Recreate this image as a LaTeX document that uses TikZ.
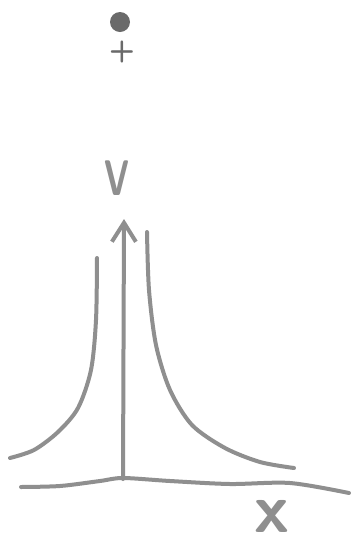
\documentclass[tikz,border=0pt]{standalone}
\usepackage{tikz}
\usetikzlibrary{arrows.meta}
\definecolor{SketchPencil}{HTML}{8F8F8F}
\definecolor{SketchDark}{HTML}{6A6A6A}
\definecolor{SketchPaper}{HTML}{FFFFFF}

\begin{document}
\begin{tikzpicture}[x=1pt,y=-1pt,
    pencil/.style={SketchPencil,line width=4pt,line cap=round,line join=round},
    scribble/.style={text=SketchPencil,font=\sffamily\bfseries,inner sep=0pt}]
      \fill[SketchPaper] (0,0) rectangle (352,550);
      \useasboundingbox (0,0) rectangle (352,550);
      % charge and its sign
      \node[circle,fill=SketchDark,minimum size=20pt,inner sep=0pt] (charge) at (120,22) {};
      \node[scribble,font=\sffamily\bfseries\fontsize{30}{30}\selectfont,text=SketchDark] (sign) at (122,52) {+};
      % axes
      \coordinate (origin) at (123,479);
      \coordinate (vtip) at (124,219);
      \draw[pencil,-{Straight Barb[length=19pt,width=24pt]}] (origin) -- (vtip);
      \draw[pencil] plot[smooth] coordinates {(21,487) (60,486) (100,481) (123,478) (170,481) (230,484) (290,483) (349,493)};
      \node[scribble,xscale=0.68,font=\sffamily\bfseries\fontsize{50}{50}\selectfont] (vlabel) at (117,178) {V};
      \node[scribble,font=\sffamily\bfseries\fontsize{70}{70}\selectfont] (xlabel) at (272,516) {x};
      % potential on both sides
      \draw[pencil] plot[smooth] coordinates {(97,258) (96,320) (91,370) (78,408) (58,432) (34,450) (10,458)};
      \draw[pencil] plot[smooth] coordinates {(147,232) (149,290) (156,345) (170,390) (192,425) (225,448) (260,462) (294,468)};
    \end{tikzpicture}
\end{document}
